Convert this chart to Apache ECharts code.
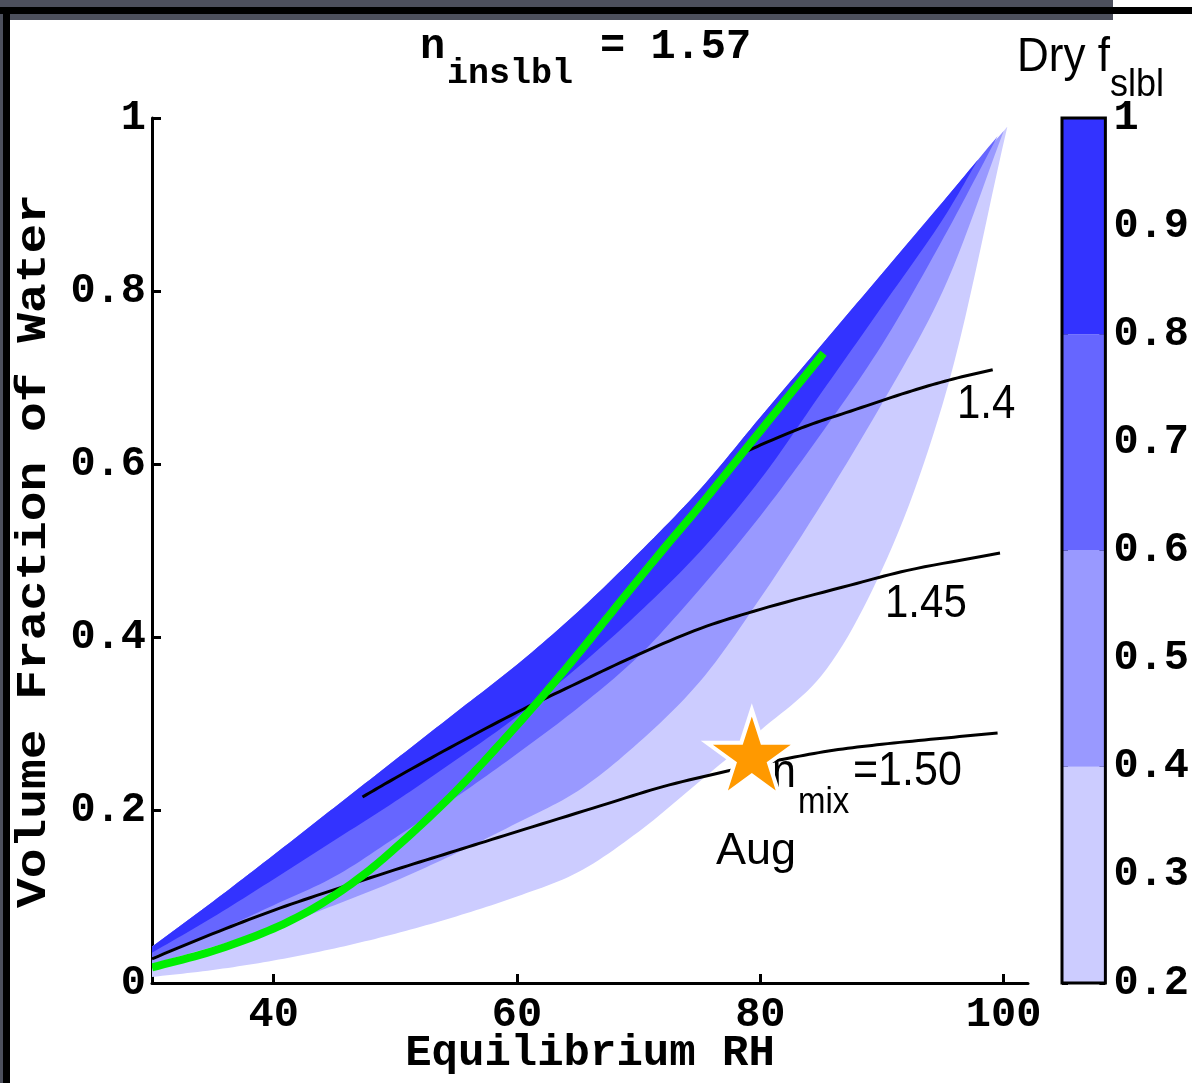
<!DOCTYPE html>
<html>
<head>
<meta charset="utf-8">
<script src="https://cdn.jsdelivr.net/npm/echarts@6/dist/echarts.min.js"></script>
<style>
html, body { margin: 0; padding: 0; background: #fff; }
#chart { width: 1192px; height: 1083px; }
</style>
</head>
<body>
<div id="chart"></div>
<script>
// edges of the dry f_slbl regions, [RH, volume fraction of water]
const upperEdge = [[30, 0.042], [35, 0.094], [40, 0.148], [45, 0.203], [50, 0.258], [55, 0.313], [60, 0.368],
  [65, 0.429], [70, 0.497], [75, 0.57], [80, 0.654], [85, 0.737], [90, 0.82], [95, 0.903], [100, 0.985]];
const contour08 = [[30, 0.035], [35, 0.076], [40, 0.12], [45, 0.165], [50, 0.21], [55, 0.258], [60, 0.308],
  [65, 0.365], [70, 0.428], [75, 0.498], [80, 0.582], [85, 0.682], [90, 0.782], [95, 0.883], [97.9, 0.952]];
const contour06 = [[30, 0.03], [35, 0.058], [40, 0.09], [45, 0.123], [50, 0.168], [55, 0.215], [60, 0.265],
  [65, 0.318], [70, 0.378], [75, 0.455], [80, 0.54], [85, 0.635], [90, 0.738], [95, 0.86], [99.5, 0.979]];
const contour04 = [[30, 0.022], [35, 0.042], [40, 0.064], [45, 0.09], [50, 0.118], [55, 0.15], [60, 0.185],
  [65, 0.222], [70, 0.278], [75, 0.348], [80, 0.445], [85, 0.553], [90, 0.67], [95, 0.8], [100, 0.985]];
const contour02 = [[30, 0.007], [35, 0.015], [40, 0.026], [45, 0.04], [50, 0.057], [55, 0.077], [60, 0.1],
  [65, 0.128], [70, 0.175], [75, 0.233], [80, 0.292], [85, 0.355], [90, 0.478], [95, 0.67], [100.3, 0.99]];

const bandLevels = [0.2, 0.4, 0.6, 0.8, 1];
const bandColors = ['#ccccff', '#9999ff', '#6666ff', '#3333ff'];

// n_mix lines
const nmix140 = [[78.6, 0.613], [81, 0.628], [84, 0.645], [87.4, 0.661], [92.1, 0.683], [95.5, 0.697], [99.1, 0.709]];
const nmix145 = [[47.3, 0.215], [50, 0.237], [55, 0.276], [60, 0.313], [65, 0.347], [70, 0.38], [75.1, 0.41],
  [80, 0.432], [87.4, 0.46], [92.1, 0.477], [99.7, 0.497]];
const nmix150 = [[30, 0.028], [35, 0.057], [40, 0.084], [45, 0.108], [50, 0.131], [55, 0.153], [60, 0.175],
  [66.9, 0.205], [72, 0.227], [77.3, 0.245], [82, 0.259], [86, 0.269], [90, 0.276], [95, 0.283], [99.5, 0.289]];

const greenLine = [[30, 0.018], [35, 0.037], [40, 0.063], [43.6, 0.089], [47, 0.121], [50, 0.156], [54.5, 0.215],
  [58, 0.267], [62, 0.33], [65, 0.38], [68.5, 0.441], [72, 0.501], [75, 0.551], [78.1, 0.605], [81.6, 0.666],
  [85.2, 0.728]];

const augPoint = [[79.3, 0.266]];
const xTicks = [40, 60, 80, 100];

const mono = '"Liberation Mono", "DejaVu Sans Mono", monospace';
const sans = '"Liberation Sans", Arial, sans-serif';
const starPath = 'path://M50,0 L61.2,34.5 L97.6,34.5 L68.2,55.9 L79.4,90.5 L50,69.1 L20.6,90.5 L31.8,55.9 L2.4,34.5 L38.8,34.5 Z';

// smooth curve through pixel points (centripetal catmull-rom), used only for drawing
function splinePixels(pts, steps) {
  const n = pts.length;
  const out = [];
  const get = i => {
    if (i < 0) return [2 * pts[0][0] - pts[1][0], 2 * pts[0][1] - pts[1][1]];
    if (i >= n) return [2 * pts[n - 1][0] - pts[n - 2][0], 2 * pts[n - 1][1] - pts[n - 2][1]];
    return pts[i];
  };
  const lerp = (a, b, ta, tb, t) => {
    const k = tb === ta ? 0 : (t - ta) / (tb - ta);
    return [a[0] + (b[0] - a[0]) * k, a[1] + (b[1] - a[1]) * k];
  };
  const d = (a, b) => Math.max(Math.sqrt(Math.hypot(b[0] - a[0], b[1] - a[1])), 1e-4);
  for (let i = 0; i < n - 1; i++) {
    const p0 = get(i - 1), p1 = get(i), p2 = get(i + 1), p3 = get(i + 2);
    const t0 = 0, t1 = t0 + d(p0, p1), t2 = t1 + d(p1, p2), t3 = t2 + d(p2, p3);
    for (let s = 0; s < steps; s++) {
      const t = t1 + (t2 - t1) * s / steps;
      const a1 = lerp(p0, p1, t0, t1, t), a2 = lerp(p1, p2, t1, t2, t), a3 = lerp(p2, p3, t2, t3, t);
      const b1 = lerp(a1, a2, t0, t2, t), b2 = lerp(a2, a3, t1, t3, t);
      out.push(lerp(b1, b2, t1, t2, t));
    }
  }
  out.push(pts[n - 1]);
  return out;
}

const bands = [contour02, contour04, contour06, contour08];
const curves = [nmix150, nmix145, nmix140, greenLine];
const curveStyles = [
  { stroke: '#000', lineWidth: 3 },
  { stroke: '#000', lineWidth: 3 },
  { stroke: '#000', lineWidth: 3 },
  { stroke: '#00ee00', lineWidth: 8 }
];

const chart = echarts.init(document.getElementById('chart'), null, { renderer: 'canvas' });

function txt(text, x, y, font, opts) {
  return Object.assign({
    type: 'text', x: x, y: y, z: 1,
    style: { text: text, font: font, fill: '#000', align: 'left', verticalAlign: 'middle' }
  }, opts || {});
}

const option = {
  animation: false,
  backgroundColor: '#fff',
  grid: [
    { left: 152, top: 118, width: 876, height: 865 },
    { left: 1062, top: 118, width: 44, height: 865 }
  ],
  xAxis: [
    {
      type: 'value', gridIndex: 0, min: 30, max: 102,
      axisLine: { lineStyle: { color: '#000', width: 3 } },
      axisTick: { inside: true, length: 9, customValues: xTicks, lineStyle: { color: '#000', width: 3 } },
      axisLabel: { customValues: xTicks, color: '#000', fontFamily: mono, fontSize: 42, fontWeight: 'bold', margin: 11 },
      splitLine: { show: false }
    },
    { type: 'value', gridIndex: 1, min: 0, max: 1, show: false }
  ],
  yAxis: [
    {
      type: 'value', gridIndex: 0, min: 0, max: 1, interval: 0.2,
      axisLine: { show: true, lineStyle: { color: '#000', width: 3 } },
      axisTick: { show: true, inside: true, length: 9, lineStyle: { color: '#000', width: 3 } },
      axisLabel: { color: '#000', fontFamily: mono, fontSize: 42, fontWeight: 'bold', margin: 6 },
      splitLine: { show: false }
    },
    {
      type: 'value', gridIndex: 1, min: 0.2, max: 1, interval: 0.1, position: 'left',
      axisLine: { show: false },
      axisTick: { show: true, inside: true, length: 6, lineStyle: { color: '#000', width: 3 } },
      axisLabel: { show: false },
      splitLine: { show: false }
    },
    {
      type: 'value', gridIndex: 1, min: 0.2, max: 1, interval: 0.1, position: 'right',
      axisLine: { show: false },
      axisTick: { show: true, inside: true, length: 6, lineStyle: { color: '#000', width: 3 } },
      axisLabel: { color: '#000', fontFamily: mono, fontSize: 42, fontWeight: 'bold', margin: 8 },
      splitLine: { show: false }
    }
  ],
  series: [
    {
      type: 'custom', xAxisIndex: 0, yAxisIndex: 0, silent: true, z: 1, clip: true,
      data: bands.map(() => [30, 0]),
      renderItem: function (params, api) {
        const lower = bands[params.dataIndex];
        const end = lower[lower.length - 1];
        const top = upperEdge.filter(p => p[0] < end[0]).concat([end]);
        const topPx = splinePixels(top.map(p => api.coord(p)), 12);
        const lowPx = splinePixels(lower.slice().reverse().map(p => api.coord(p)), 12);
        return { type: 'polygon', shape: { points: topPx.concat(lowPx.slice(1)) },
          style: { fill: bandColors[params.dataIndex] } };
      }
    },
    {
      type: 'custom', xAxisIndex: 0, yAxisIndex: 0, silent: true, z: 3, clip: true,
      data: curves.map(() => [30, 0]),
      renderItem: function (params, api) {
        const pts = splinePixels(curves[params.dataIndex].map(p => api.coord(p)), 10);
        return { type: 'polyline', shape: { points: pts },
          style: Object.assign({ fill: 'none' }, curveStyles[params.dataIndex]) };
      }
    },
    {
      type: 'scatter', data: augPoint, symbol: starPath, symbolSize: [90, 86], silent: true, z: 6,
      itemStyle: { color: '#ff9900', borderColor: '#fff', borderWidth: 4, opacity: 1 }
    },
    {
      // colorbar
      type: 'custom', xAxisIndex: 1, yAxisIndex: 1, silent: true, z: 1,
      data: bandColors.map((c, i) => [0, bandLevels[i]]),
      renderItem: function (params, api) {
        const i = params.dataIndex;
        const p0 = api.coord([0, bandLevels[i + 1]]);
        const p1 = api.coord([1, bandLevels[i]]);
        return { type: 'rect', shape: { x: p0[0], y: p0[1], width: p1[0] - p0[0], height: p1[1] - p0[1] },
          style: { fill: bandColors[i] } };
      }
    },
    {
      type: 'custom', xAxisIndex: 1, yAxisIndex: 1, silent: true, z: 5,
      data: [[0, 1]],
      renderItem: function (params, api) {
        const p0 = api.coord([0, 1]);
        const p1 = api.coord([1, 0.2]);
        return { type: 'rect', shape: { x: p0[0], y: p0[1], width: p1[0] - p0[0], height: p1[1] - p0[1] },
          style: { fill: 'none', stroke: '#000', lineWidth: 3 } };
      }
    }
  ],
  graphic: [
    // frame
    { type: 'rect', shape: { x: 0, y: 0, width: 1113, height: 20 }, style: { fill: '#4d505d' }, z: 10 },
    { type: 'rect', shape: { x: 0, y: 0, width: 4, height: 1083 }, style: { fill: '#4d505d' }, z: 10 },
    { type: 'rect', shape: { x: 0, y: 7, width: 1192, height: 7 }, style: { fill: '#000' }, z: 11 },
    { type: 'rect', shape: { x: 3, y: 7, width: 7, height: 1076 }, style: { fill: '#000' }, z: 11 },
    // title
    txt('n', 420, 47, 'bold 42px ' + mono),
    txt('inslbl', 447, 74, 'bold 35px ' + mono),
    txt('= 1.57', 600, 47, 'bold 42px ' + mono),
    // colorbar title
    txt('Dry f', 1017, 58, '44px ' + sans, { scaleY: 1.08 }),
    txt('slbl', 1110, 85, '36px ' + sans, { scaleY: 1.1 }),
    // axis titles
    txt('Volume Fraction of Water', 34, 551, 'bold 42px ' + mono, { rotation: Math.PI / 2, scaleX: 1.18,
      style: { text: 'Volume Fraction of Water', font: 'bold 42px ' + mono, fill: '#000', align: 'center', verticalAlign: 'middle' } }),
    txt('Equilibrium RH', 590, 1054, 'bold 44px ' + mono, {
      style: { text: 'Equilibrium RH', font: 'bold 44px ' + mono, fill: '#000', align: 'center', verticalAlign: 'middle' } }),
    // line labels
    txt('1.4', 957, 405, '42px ' + sans, { scaleY: 1.15 }),
    txt('1.45', 885, 604, '42px ' + sans, { scaleY: 1.12 }),
    txt('n', 772, 774, '43px ' + sans, { scaleY: 1.1 }),
    txt('mix', 798, 803, '33px ' + sans, { scaleY: 1.1 }),
    txt('=1.50', 853, 772, '43px ' + sans, { scaleY: 1.1 }),
    txt('Aug', 756, 852, '45px ' + sans, {
      style: { text: 'Aug', font: '45px ' + sans, fill: '#000', align: 'center', verticalAlign: 'middle' } })
  ]
};

chart.setOption(option);
</script>
</body>
</html>
